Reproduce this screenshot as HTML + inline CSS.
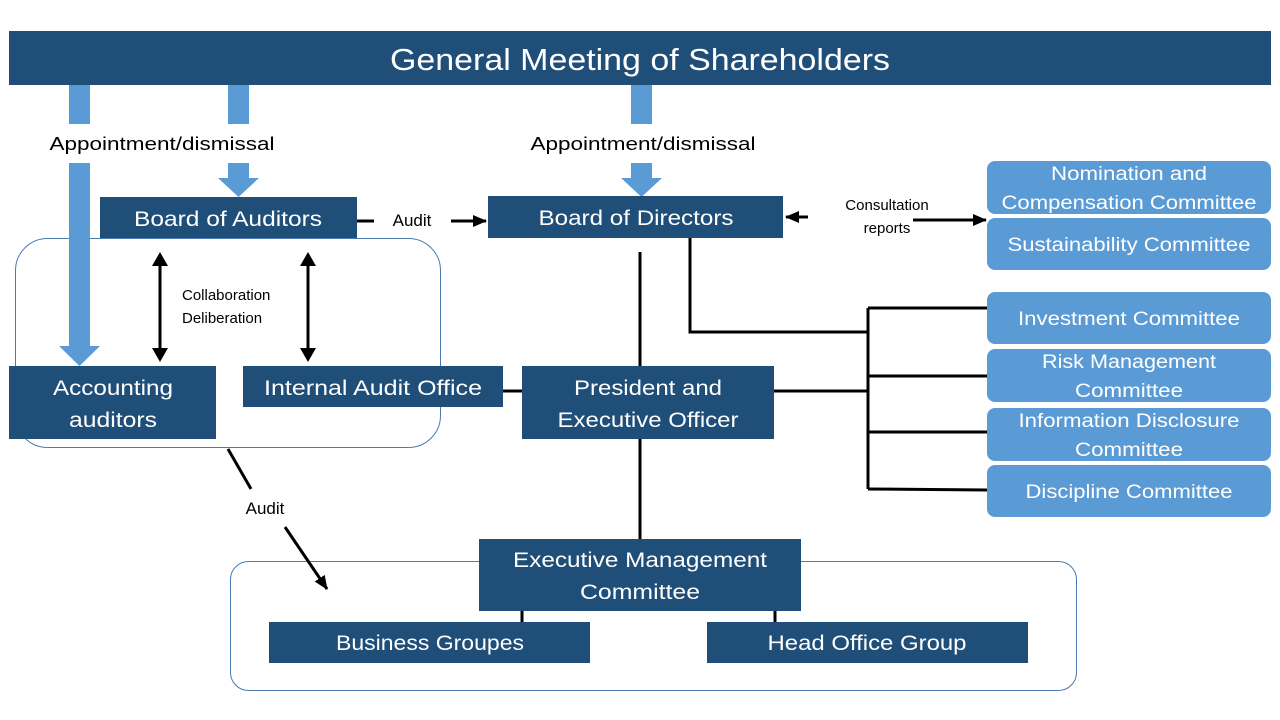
<!DOCTYPE html>
<html><head><meta charset="utf-8"><style>
html,body{margin:0;padding:0;background:#fff;}
svg{display:block;font-family:"Liberation Sans",sans-serif;}
</style></head><body>
<svg width="1280" height="720" viewBox="0 0 1280 720" xmlns="http://www.w3.org/2000/svg">
<defs>
<marker id="ah" markerWidth="8" markerHeight="8" refX="7" refY="4" orient="auto" markerUnits="userSpaceOnUse">
<path d="M0,0 L8,4 L0,8 z" fill="#000"/></marker>
<marker id="ah2" markerWidth="14" markerHeight="12" refX="13" refY="6" orient="auto" markerUnits="userSpaceOnUse">
<path d="M0,0 L14,6 L0,12 z" fill="#000"/></marker>
</defs>
<!-- rounded containers -->
<rect x="15.5" y="238.5" width="425" height="209" rx="32" fill="none" stroke="#4a7ab0" stroke-width="1"/>
<rect x="230.5" y="561.5" width="846" height="129" rx="18" fill="none" stroke="#4a7ab0" stroke-width="1"/>
<!-- top bar -->
<rect x="9" y="31" width="1262" height="54" fill="#1F4E79"/>
<text x="640" y="70" font-size="31" fill="#fff" text-anchor="middle" textLength="500" lengthAdjust="spacingAndGlyphs">General Meeting of Shareholders</text>
<!-- light arrows -->
<g fill="#5B9BD5">
<rect x="69" y="85" width="21" height="39"/>
<path d="M69,163 H90 V346 H100 L79.5,366 L59,346 H69 Z"/>
<rect x="228" y="85" width="21" height="39"/>
<path d="M228,163 H249 V178 H259 L238.5,197 L218,178 H228 Z"/>
<rect x="631" y="85" width="21" height="39"/>
<path d="M631,163 H652 V178 H662 L641.5,197 L621,178 H631 Z"/>
</g>
<g font-size="18" fill="#000" text-anchor="middle">
<text x="162" y="150" textLength="225" lengthAdjust="spacingAndGlyphs">Appointment/dismissal</text>
<text x="643" y="150" textLength="225" lengthAdjust="spacingAndGlyphs">Appointment/dismissal</text>
<text x="412" y="226" font-size="17">Audit</text>
<text x="265" y="514" font-size="17">Audit</text>
</g>
<g font-size="15" fill="#000">
<text x="182" y="300">Collaboration</text>
<text x="182" y="323">Deliberation</text>
<text x="887" y="210" text-anchor="middle">Consultation</text>
<text x="887" y="233" text-anchor="middle">reports</text>
</g>
<!-- black lines -->
<g stroke="#000" stroke-width="3" fill="none">
<line x1="357" y1="221" x2="374" y2="221"/>
<line x1="451" y1="221" x2="486" y2="221" marker-end="url(#ah2)"/>
<line x1="808" y1="217" x2="786" y2="217" marker-end="url(#ah2)"/>
<line x1="913" y1="220" x2="986" y2="220" marker-end="url(#ah2)"/>
<line x1="160" y1="262" x2="160" y2="352"/>
<line x1="308" y1="262" x2="308" y2="352"/>
<line x1="640" y1="252" x2="640" y2="366"/>
<path d="M690,238 V332 H868"/>
<path d="M868,308 V489"/>
<line x1="868" y1="308" x2="987" y2="308"/>
<line x1="868" y1="376" x2="987" y2="376"/>
<line x1="868" y1="432" x2="987" y2="432"/>
<line x1="868" y1="489" x2="987" y2="490"/>
<line x1="774" y1="391" x2="868" y2="391"/>
<line x1="503" y1="391" x2="522" y2="391"/>
<line x1="640" y1="439" x2="640" y2="539"/>
<line x1="522" y1="611" x2="522" y2="622"/>
<line x1="775" y1="611" x2="775" y2="622"/>
<line x1="228" y1="449" x2="251" y2="489"/>
<line x1="285" y1="527" x2="327" y2="589" marker-end="url(#ah2)"/>
</g>
<g fill="#000">
<path d="M160,252 L152,266 H168 Z"/><path d="M160,362 L152,348 H168 Z"/>
<path d="M308,252 L300,266 H316 Z"/><path d="M308,362 L300,348 H316 Z"/>
</g>
<!-- dark boxes -->
<g fill="#1F4E79">
<rect x="100" y="197" width="257" height="41"/>
<rect x="488" y="196" width="295" height="42"/>
<rect x="9" y="366" width="207" height="73"/>
<rect x="243" y="366" width="260" height="41"/>
<rect x="522" y="366" width="252" height="73"/>
<rect x="479" y="539" width="322" height="72"/>
<rect x="269" y="622" width="321" height="41"/>
<rect x="707" y="622" width="321" height="41"/>
</g>
<g fill="#fff" font-size="21" text-anchor="middle">
<text x="228" y="226" textLength="188" lengthAdjust="spacingAndGlyphs">Board of Auditors</text>
<text x="636" y="225" textLength="195" lengthAdjust="spacingAndGlyphs">Board of Directors</text>
<text x="113" y="395" textLength="120" lengthAdjust="spacingAndGlyphs">Accounting</text>
<text x="113" y="427" textLength="88" lengthAdjust="spacingAndGlyphs">auditors</text>
<text x="373" y="395" textLength="218" lengthAdjust="spacingAndGlyphs">Internal Audit Office</text>
<text x="648" y="395" textLength="148" lengthAdjust="spacingAndGlyphs">President and</text>
<text x="648" y="427" textLength="181" lengthAdjust="spacingAndGlyphs">Executive Officer</text>
<text x="640" y="567" textLength="254" lengthAdjust="spacingAndGlyphs">Executive Management</text>
<text x="640" y="599" textLength="120" lengthAdjust="spacingAndGlyphs">Committee</text>
<text x="430" y="650" textLength="188" lengthAdjust="spacingAndGlyphs">Business Groupes</text>
<text x="867" y="650" textLength="199" lengthAdjust="spacingAndGlyphs">Head Office Group</text>
</g>
<!-- light committees -->
<g fill="#5B9BD5">
<rect x="987" y="161" width="284" height="53" rx="8"/>
<rect x="987" y="218" width="284" height="52" rx="8"/>
<rect x="987" y="292" width="284" height="52" rx="8"/>
<rect x="987" y="349" width="284" height="53" rx="8"/>
<rect x="987" y="408" width="284" height="53" rx="8"/>
<rect x="987" y="465" width="284" height="52" rx="8"/>
</g>
<g fill="#fff" font-size="19" text-anchor="middle">
<text x="1129" y="180" textLength="156" lengthAdjust="spacingAndGlyphs">Nomination and</text>
<text x="1129" y="209" textLength="255" lengthAdjust="spacingAndGlyphs">Compensation Committee</text>
<text x="1129" y="251" textLength="243" lengthAdjust="spacingAndGlyphs">Sustainability Committee</text>
<text x="1129" y="325" textLength="222" lengthAdjust="spacingAndGlyphs">Investment Committee</text>
<text x="1129" y="368" textLength="174" lengthAdjust="spacingAndGlyphs">Risk Management</text>
<text x="1129" y="397" textLength="108" lengthAdjust="spacingAndGlyphs">Committee</text>
<text x="1129" y="427" textLength="221" lengthAdjust="spacingAndGlyphs">Information Disclosure</text>
<text x="1129" y="456" textLength="108" lengthAdjust="spacingAndGlyphs">Committee</text>
<text x="1129" y="498" textLength="207" lengthAdjust="spacingAndGlyphs">Discipline Committee</text>
</g>
</svg>
</body></html>
